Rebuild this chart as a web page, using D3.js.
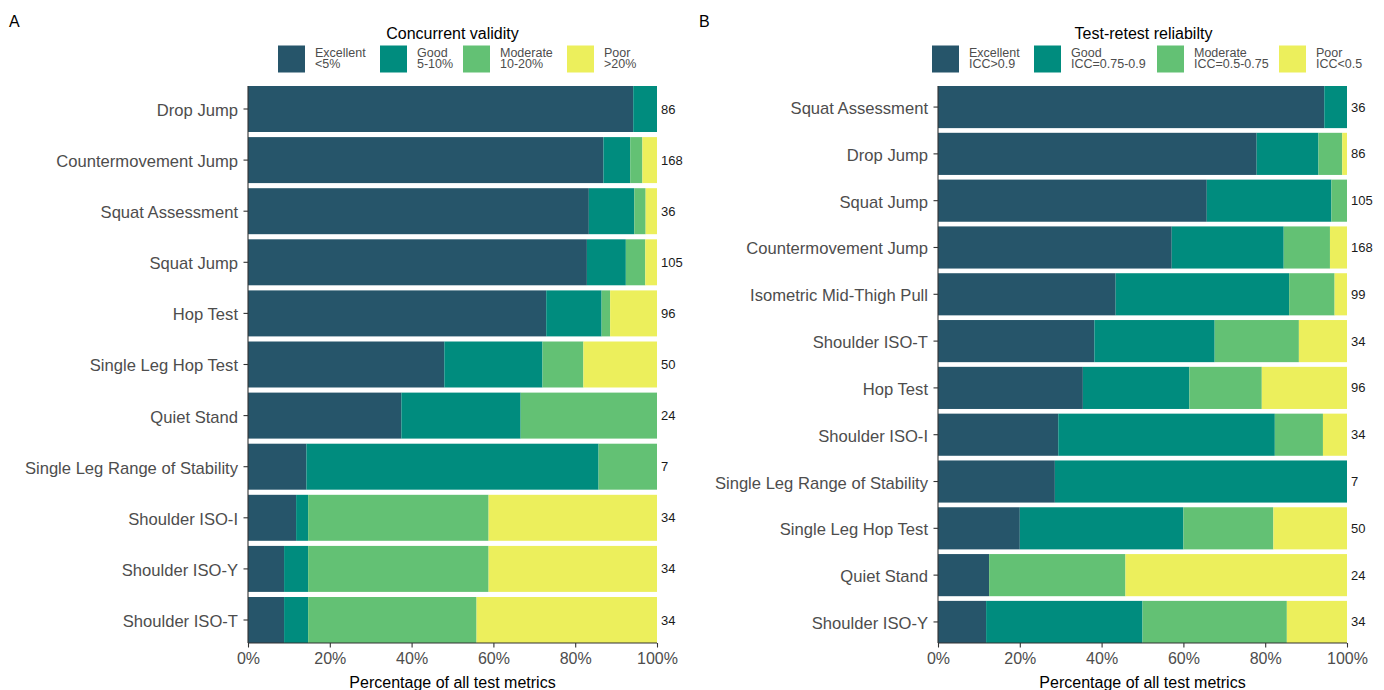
<!DOCTYPE html>
<html>
<head>
<meta charset="utf-8">
<script src="https://cdn.jsdelivr.net/npm/d3@7"></script>
<style>
  html, body { margin: 0; padding: 0; background: #fff; }
  svg { display: block; font-family: "Liberation Sans", Arial, sans-serif; }
</style>
</head>
<body>
<svg id="chart" width="1384" height="690"></svg>
<script>
// Rating levels shared by both panels
const levels = ["Excellent", "Good", "Moderate", "Poor"];
const levelColors = ["#26556A", "#008C7E", "#63C174", "#ECEF5C"];
const xTicks = [0, 0.2, 0.4, 0.6, 0.8, 1];

// Panel A: concurrent validity (metric counts per rating)
const validityTitle = "Concurrent validity";
const validitySub = ["<5%", "5-10%", "10-20%", ">20%"];
const validityTests = ["Drop Jump", "Countermovement Jump", "Squat Assessment", "Squat Jump", "Hop Test",
  "Single Leg Hop Test", "Quiet Stand", "Single Leg Range of Stability", "Shoulder ISO-I", "Shoulder ISO-Y", "Shoulder ISO-T"];
const validityTotal     = [86, 168, 36, 105, 96, 50, 24, 7, 34, 34, 34];
const validityExcellent = [81, 146, 30, 87, 70, 24, 9, 1, 4, 3, 3];
const validityGood      = [5, 11, 4, 10, 13, 12, 7, 5, 1, 2, 2];
const validityModerate  = [0, 5, 1, 5, 2, 5, 8, 1, 15, 15, 14];
const validityPoor      = [0, 6, 1, 3, 11, 9, 0, 0, 14, 14, 15];

// Panel B: test-retest reliability (metric counts per rating)
const reliabilityTitle = "Test-retest reliabilty";
const reliabilitySub = ["ICC>0.9", "ICC=0.75-0.9", "ICC=0.5-0.75", "ICC<0.5"];
const reliabilityTests = ["Squat Assessment", "Drop Jump", "Squat Jump", "Countermovement Jump", "Isometric Mid-Thigh Pull",
  "Shoulder ISO-T", "Hop Test", "Shoulder ISO-I", "Single Leg Range of Stability", "Single Leg Hop Test", "Quiet Stand", "Shoulder ISO-Y"];
const reliabilityTotal     = [36, 86, 105, 168, 99, 34, 96, 34, 7, 50, 24, 34];
const reliabilityExcellent = [34, 67, 69, 96, 43, 13, 34, 10, 2, 10, 3, 4];
const reliabilityGood      = [2, 13, 32, 46, 42, 10, 25, 18, 5, 20, 0, 13];
const reliabilityModerate  = [0, 5, 4, 19, 11, 7, 17, 4, 0, 11, 8, 12];
const reliabilityPoor      = [0, 1, 0, 7, 3, 4, 20, 2, 0, 9, 13, 5];

const svg = d3.select("#chart");
const textGrey = "#4D4D4D";

function drawPanel(cfg) {
  const g = svg.append("g");

  // Build proportions per test
  const rows = cfg.tests.map((t, i) => {
    const r = { test: t, total: cfg.total[i] };
    cfg.series.forEach((s, k) => { r[levels[k]] = s[i] / cfg.total[i]; });
    return r;
  });
  const stacked = d3.stack().keys(levels)(rows);

  const x = d3.scaleLinear().domain([0, 1]).range([cfg.x0, cfg.x1]);
  const y = d3.scaleBand().domain(cfg.tests).range([cfg.y0, cfg.y1])
    .paddingInner(0.1).paddingOuter(0);
  const color = d3.scaleOrdinal().domain(levels).range(levelColors);

  // Stacked bars
  g.selectAll("g.layer").data(stacked).join("g")
    .attr("class", "layer")
    .attr("fill", d => color(d.key))
    .selectAll("rect").data(d => d).join("rect")
    .attr("x", d => x(d[0]))
    .attr("width", d => Math.max(0, x(d[1]) - x(d[0])))
    .attr("y", d => y(d.data.test))
    .attr("height", y.bandwidth());

  // Totals to the right of each bar
  g.selectAll("text.total").data(rows).join("text")
    .attr("class", "total")
    .attr("x", cfg.x1 + 4)
    .attr("y", d => y(d.test) + y.bandwidth() / 2)
    .attr("dy", "0.35em")
    .attr("font-size", 13)
    .attr("fill", "#1a1a1a")
    .text(d => d.total);

  // Y axis
  const yAxis = g.append("g").attr("transform", `translate(${cfg.x0},0)`)
    .call(d3.axisLeft(y).tickSize(4.5).tickPadding(5.5));
  yAxis.select(".domain").attr("stroke", "#333").attr("stroke-width", 1.1)
    .attr("d", `M0,${cfg.y0}V${cfg.y1}`);
  yAxis.selectAll(".tick line").attr("stroke", "#333").attr("stroke-width", 1.1);
  yAxis.selectAll(".tick text").attr("font-size", 16.6).attr("fill", textGrey)
    .attr("dy", "0.42em")
    .attr("font-family", "Liberation Sans, Arial, sans-serif");

  // X axis
  const xAxis = g.append("g").attr("transform", `translate(0,${cfg.y1})`)
    .call(d3.axisBottom(x).tickValues(xTicks).tickFormat(d3.format(".0%")).tickSize(4.5).tickPadding(5));
  xAxis.select(".domain").attr("stroke", "#333").attr("stroke-width", 1.1)
    .attr("d", `M${cfg.x0},0H${cfg.x1}`);
  xAxis.selectAll(".tick line").attr("stroke", "#333").attr("stroke-width", 1.1);
  xAxis.selectAll(".tick text").attr("font-size", 16).attr("fill", textGrey)
    .attr("font-family", "Liberation Sans, Arial, sans-serif");

  g.append("text")
    .attr("x", (cfg.x0 + cfg.x1) / 2).attr("y", 688)
    .attr("text-anchor", "middle").attr("font-size", 16).attr("fill", "#000")
    .text("Percentage of all test metrics");

  // Panel tag
  g.append("text").attr("x", cfg.tagX).attr("y", 26.5)
    .attr("font-size", 16).attr("fill", "#000").text(cfg.tag);

  // Legend
  const lg = g.append("g");
  lg.append("text").attr("x", cfg.legendCenter).attr("y", 39)
    .attr("text-anchor", "middle").attr("font-size", 16).attr("fill", "#000")
    .text(cfg.title);
  levels.forEach((lvl, k) => {
    lg.append("rect")
      .attr("x", cfg.keyX[k]).attr("y", 45.5)
      .attr("width", 27).attr("height", 27)
      .attr("fill", color(lvl));
    lg.append("text")
      .attr("x", cfg.keyX[k] + 37).attr("y", 56.5)
      .attr("font-size", 12.5).attr("fill", textGrey)
      .text(lvl);
    lg.append("text")
      .attr("x", cfg.keyX[k] + 37).attr("y", 68)
      .attr("font-size", 12.5).attr("fill", textGrey)
      .text(cfg.sub[k]);
  });
}

drawPanel({
  tag: "A", tagX: 9,
  title: validityTitle, sub: validitySub,
  tests: validityTests, total: validityTotal,
  series: [validityExcellent, validityGood, validityModerate, validityPoor],
  x0: 248, x1: 657, y0: 86, y1: 643,
  legendCenter: 452.5, keyX: [278, 380, 463, 567]
});

drawPanel({
  tag: "B", tagX: 699,
  title: reliabilityTitle, sub: reliabilitySub,
  tests: reliabilityTests, total: reliabilityTotal,
  series: [reliabilityExcellent, reliabilityGood, reliabilityModerate, reliabilityPoor],
  x0: 938, x1: 1347, y0: 86, y1: 643,
  legendCenter: 1143.5, keyX: [932, 1034, 1157, 1279]
});
</script>
</body>
</html>
